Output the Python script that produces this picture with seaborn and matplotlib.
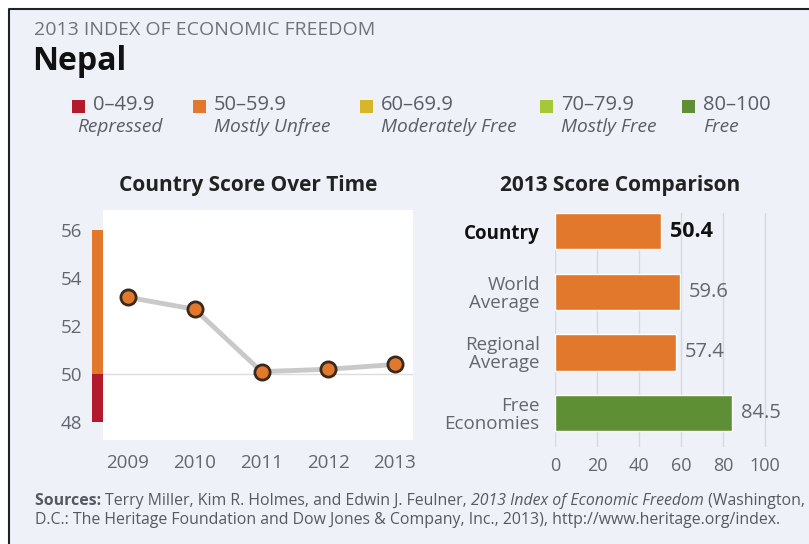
import matplotlib
matplotlib.use('Agg')
import matplotlib.pyplot as plt
import matplotlib.transforms as mtransforms
from matplotlib.patches import Rectangle
from matplotlib.lines import Line2D
import pandas as pd
import seaborn as sns

# dati
years = [2009, 2010, 2011, 2012, 2013]
scores = [53.2, 52.7, 50.1, 50.2, 50.4]

categories = ['Country', 'World\nAverage', 'Regional\nAverage', 'Free\nEconomies']
comparison = [50.4, 59.6, 57.4, 84.5]
bar_colors = ['#e2782c', '#e2782c', '#e2782c', '#5f8f34']

legend_ranges = ['0–49.9', '50–59.9', '60–69.9', '70–79.9', '80–100']
legend_names = ['Repressed', 'Mostly Unfree', 'Moderately Free', 'Mostly Free', 'Free']
legend_colors = ['#b31b2c', '#e2782c', '#d8b62a', '#a6c834', '#5f8f34']

bg = '#eef1f7'
gray_txt = '#62666e'

sns.set_style('white')
plt.rcParams['font.family'] = ['Open Sans', 'DejaVu Sans']

W, H = 809, 544
fig = plt.figure(figsize=(W / 100, H / 100), dpi=100, facecolor='white')

def fx(px):
    return px / W

def fy(py):
    return 1 - py / H

# sfondo e cornice
fig.add_artist(Rectangle((fx(9), 0), 1, fy(9), transform=fig.transFigure,
                         facecolor=bg, edgecolor='none', zorder=-10))
fig.add_artist(Line2D([fx(9), fx(9), 1], [0, fy(9), fy(9)], transform=fig.transFigure,
                      color='#222222', lw=1.5))

# intestazione
fig.text(fx(34), fy(30), '2013 INDEX OF ECONOMIC FREEDOM', fontsize=14,
         color='#70737a', va='center')
fig.text(fx(32), fy(62), 'Nepal', fontsize=23, fontweight='bold', color='#111111', va='center')

# legenda
sq_x = [72, 193, 360, 540, 682]
for i in range(5):
    fig.add_artist(Rectangle((fx(sq_x[i]), fy(113)), fx(13), 13 / H,
                             transform=fig.transFigure, facecolor=legend_colors[i],
                             edgecolor='none'))
    fig.text(fx(sq_x[i] + 21), fy(105), legend_ranges[i], fontsize=14.5,
             color='#5a5d66', va='center')
    xd = sq_x[i] + 21 if i > 0 else sq_x[i] + 5
    fig.text(fx(xd), fy(127), legend_names[i], fontsize=13.8, style='italic',
             color='#5a5d66', va='center')

# grafico a linea: punteggio nel tempo
ax1 = fig.add_axes([fx(103), fy(440), fx(413 - 103), 230 / H])
ax1.set_facecolor('white')
data = pd.DataFrame({'Year': years, 'Score': scores})
ax1.axhline(50, color='#dddddd', lw=1, zorder=1)
sns.lineplot(data=data, x='Year', y='Score', ax=ax1, color='#c9c9c9', lw=3.5, zorder=2)
sns.scatterplot(data=data, x='Year', y='Score', ax=ax1, color='#e2782c', s=120,
                edgecolor='#3b2a1c', linewidth=2, zorder=3)
ax1.set_xlim(2008.625, 2013.27)
ax1.set_ylim(47.25, 56.84)
ax1.set_xticks(years)
ax1.set_yticks([48, 50, 52, 54, 56])
for s in ax1.spines.values():
    s.set_visible(False)
ax1.tick_params(axis='x', length=3, color='#bbbbbb', pad=7, labelsize=13.5, labelcolor=gray_txt)
ax1.tick_params(axis='y', length=0, pad=15, labelsize=13.5, labelcolor=gray_txt)
ax1.set_xlabel('')
ax1.set_ylabel('')
# barra colorata a sinistra (rosso sotto 50, arancio sopra)
tr = mtransforms.blended_transform_factory(ax1.transAxes, ax1.transData)
bw = 11 / (413 - 103)
ax1.add_patch(Rectangle((-bw, 48), bw, 2, transform=tr, facecolor='#b31b2c',
                        edgecolor='none', clip_on=False))
ax1.add_patch(Rectangle((-bw, 50), bw, 6, transform=tr, facecolor='#e2782c',
                        edgecolor='none', clip_on=False))
fig.text(fx(248), fy(185), 'Country Score Over Time', fontsize=15, fontweight='bold',
         color='#222222', ha='center', va='center')

# grafico a barre: confronto 2013
ax2 = fig.add_axes([fx(555), fy(447), fx(220.5), 234 / H])
ax2.patch.set_alpha(0)
comp = pd.DataFrame({'Category': categories, 'Score': comparison})
sns.barplot(data=comp, x='Score', y='Category', hue='Category', palette=bar_colors,
            saturation=1, legend=False, ax=ax2, width=0.6, orient='h', zorder=3)
ax2.set_xlim(0, 105)
ax2.set_ylim(3.56, -0.3)
ax2.set_xticks([0, 20, 40, 60, 80, 100])
ax2.xaxis.grid(True, color='#d6d9de', lw=1, zorder=0)
ax2.set_axisbelow(True)
for s in ax2.spines.values():
    s.set_visible(False)
ax2.tick_params(axis='x', length=0, pad=7, labelsize=13, labelcolor=gray_txt)
ax2.tick_params(axis='y', length=0, pad=11, labelsize=13.5, labelcolor=gray_txt)
ax2.set_xlabel('')
ax2.set_ylabel('')
for lab in ax2.get_yticklabels():
    lab.set_horizontalalignment('right')
    lab.set_linespacing(1.0)
    if lab.get_text() == 'Country':
        lab.set_fontweight('bold')
        lab.set_color('#111111')
for i, v in enumerate(comparison):
    if i == 0:
        ax2.text(v + 4.3, i, f'{v:.1f}', va='center', fontsize=15.5, fontweight='bold',
                 color='#111111')
    else:
        ax2.text(v + 4.3, i, f'{v:.1f}', va='center', fontsize=14.5, color=gray_txt)
fig.text(fx(620), fy(185), '2013 Score Comparison', fontsize=15, fontweight='bold',
         color='#222222', ha='center', va='center')

# fonti (testo con parti in grassetto e corsivo)
renderer = fig.canvas.get_renderer()

def runs(x, y, parts):
    for txt, kw in parts:
        t = fig.text(x, y, txt, fontsize=11.4, color='#555a62', va='center', **kw)
        bb = t.get_window_extent(renderer)
        x += bb.width / fig.bbox.width

runs(fx(35), fy(501), [
    ('Sources: ', {'fontweight': 'bold'}),
    ('Terry Miller, Kim R. Holmes, and Edwin J. Feulner, ', {}),
    ('2013 Index of Economic Freedom', {'style': 'italic'}),
    (' (Washington,', {}),
])
runs(fx(35), fy(520), [
    ('D.C.: The Heritage Foundation and Dow Jones & Company, Inc., 2013), '
     'http://www.heritage.org/index.', {}),
])

plt.savefig('out.png', dpi=100, facecolor='white')
